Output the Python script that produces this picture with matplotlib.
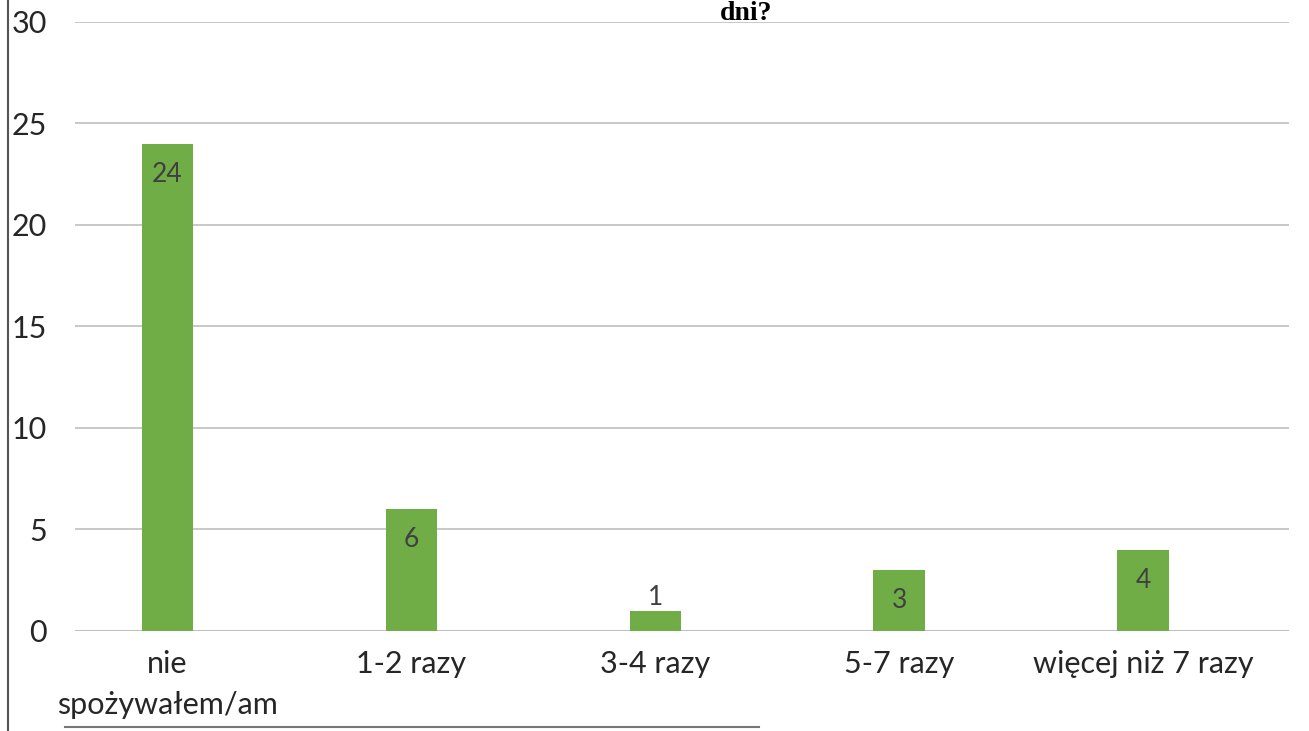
import matplotlib.pyplot as plt
from matplotlib.lines import Line2D

categories = ["nie\nspożywałem/am", "1-2 razy", "3-4 razy", "5-7 razy", "więcej niż 7 razy"]
values = [24, 6, 1, 3, 4]
yticks = [0, 5, 10, 15, 20, 25, 30]

plt.rcParams['font.family'] = ['Lato', 'DejaVu Sans']

fig = plt.figure(figsize=(13.09, 7.31), dpi=100)
ax = fig.add_axes([0.057, 0.137, 0.928, 0.833])

x = range(len(categories))
bars = ax.bar(x, values, width=0.21, color="#70ad47", zorder=3)

for b, v in zip(bars, values):
    if v >= 2:
        ax.text(b.get_x() + b.get_width() / 2, v - 0.9, str(v), ha="center", va="top",
                fontsize=19, color="#404040", zorder=4)
    else:
        ax.text(b.get_x() + b.get_width() / 2, v + 0.05, str(v), ha="center", va="bottom",
                fontsize=19, color="#404040", zorder=4)

ax.set_ylim(0, 30)
ax.set_xlim(-0.38, 4.6)
ax.set_yticks(yticks)
ax.set_xticks(list(x))
ax.set_xticklabels(categories, fontsize=22, color="#262626", linespacing=1.55)
ax.tick_params(axis="y", labelsize=22, labelcolor="#262626", length=0, pad=20)
ax.tick_params(axis="x", length=0, pad=14)
ax.grid(axis="y", color="#bfbfbf", linewidth=1.2, zorder=0)
for s in ax.spines.values():
    s.set_visible(False)
ax.axhline(0, color="#bfbfbf", linewidth=1.5, zorder=2)

# title, mostly cut off at the top of the scan
fig.text(0.57, 0.999, "dni?", ha="center", va="top", fontsize=20, fontweight="bold",
         family=["Liberation Serif", "DejaVu Serif"])

# scan border lines
fig.add_artist(Line2D([0.006, 0.006], [0.0, 1.0], color="#555555", linewidth=1.5))
fig.add_artist(Line2D([0.05, 0.58], [0.006, 0.006], color="#777777", linewidth=1.5))

fig.savefig("out.png", dpi=100)
